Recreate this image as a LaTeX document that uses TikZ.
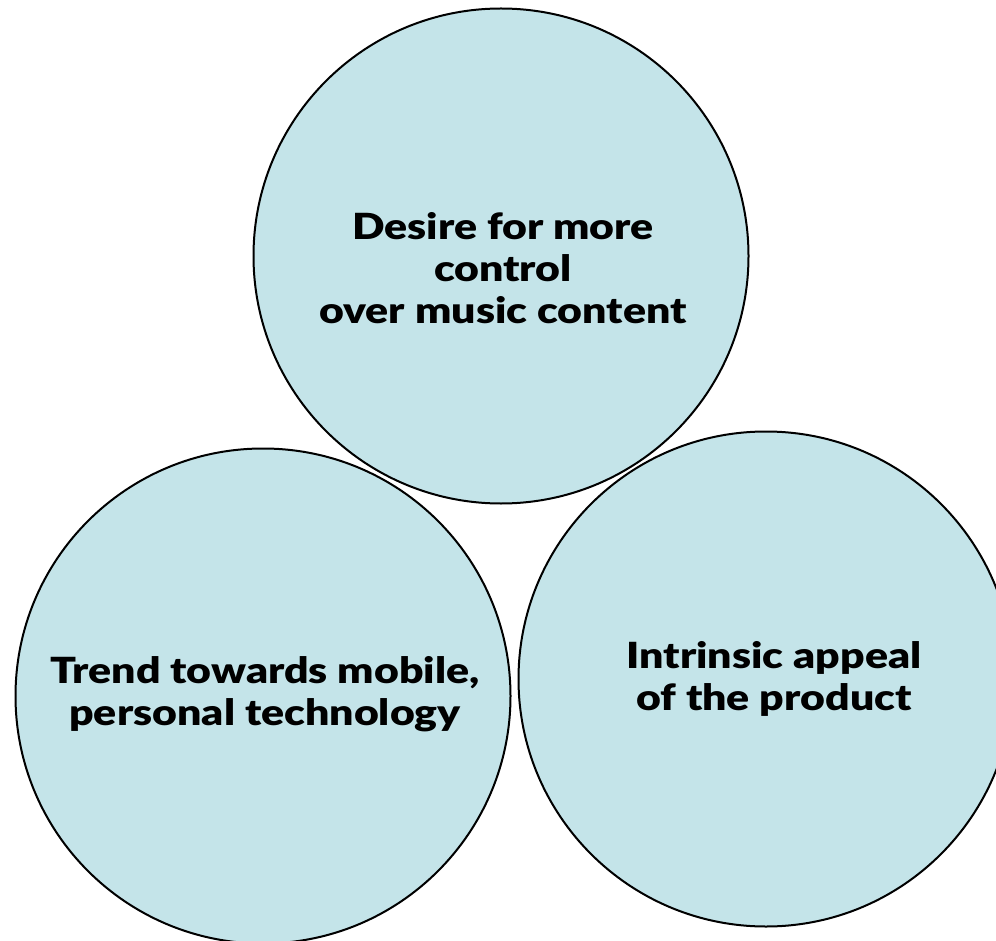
\documentclass[tikz,border=0pt]{standalone}
\usepackage{fontspec}
\setmainfont{Lato}[BoldFont={Lato Black}, BoldFeatures={FakeStretch=1.19}]
\definecolor{bubblefill}{RGB}{196,228,233}
\begin{document}
\begin{tikzpicture}[x=1pt,y=-1pt,
  bubble/.style={circle, draw=black, line width=2pt, fill=bubblefill,
    minimum size=495pt, inner sep=0pt},
  caption/.style={align=center, inner sep=0pt,
    font=\fontsize{36}{42}\selectfont\bfseries}]
  \useasboundingbox (0,0) rectangle (996,941);
  \begin{scope}
    \clip (0,0) rectangle (996,941);
    \node[bubble] (top)   at (501,256) {};
    \node[bubble] (left)  at (263,696) {};
    \node[bubble] (right) at (766,679) {};
  \end{scope}
  \node[caption] (toptext)   at (503,268) {Desire for more\\control\\over music content};
  \node[caption] (lefttext)  at (265,694) {Trend towards mobile,\\personal technology};
  \node[caption] (righttext) at (774,679) {Intrinsic appeal\\of the product};
\end{tikzpicture}
\end{document}
